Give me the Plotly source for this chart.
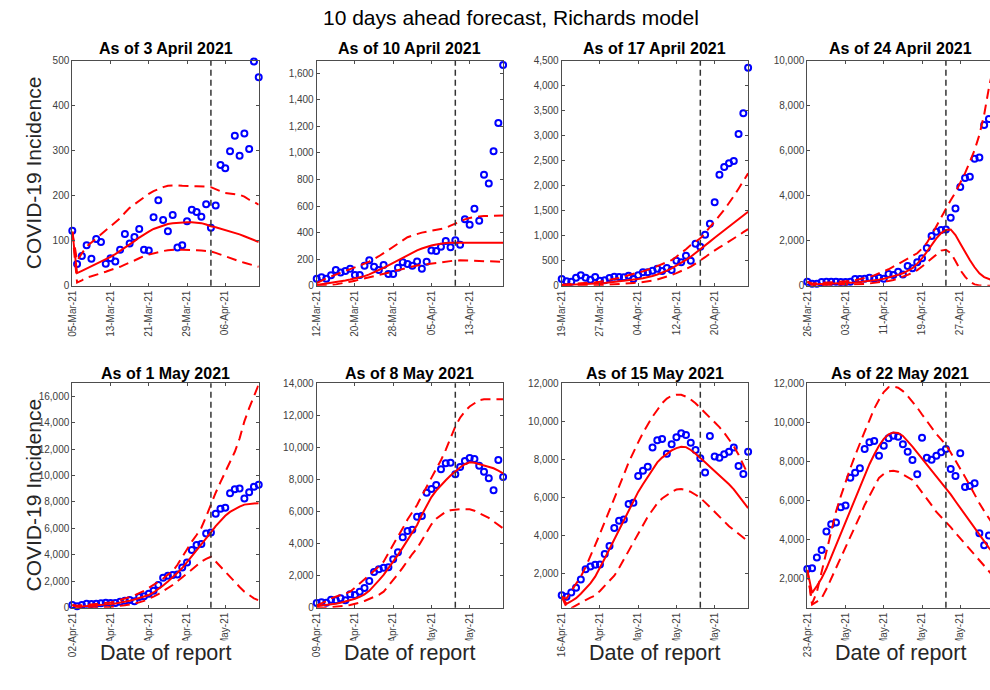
import plotly.graph_objects as go
from datetime import datetime, timedelta

# ---------------- data ----------------
start_dates = ["2021-03-05", "2021-03-12", "2021-03-19", "2021-03-26",
               "2021-04-02", "2021-04-09", "2021-04-16", "2021-04-23"]
cutoff_dates = ["2021-04-03", "2021-04-10", "2021-04-17", "2021-04-24",
                "2021-05-01", "2021-05-08", "2021-05-15", "2021-05-22"]
panel_titles = ["As of 3 April 2021", "As of 10 April 2021", "As of 17 April 2021", "As of 24 April 2021",
                "As of 1 May 2021", "As of 8 May 2021", "As of 15 May 2021", "As of 22 May 2021"]

p1_obs = [122,48,66,90,60,104,97,49,61,54,80,115,94,108,126,80,78,152,190,146,
          121,157,85,90,143,169,164,153,181,129,178,268,261,299,333,289,338,304,498,463]
p1_fit = [120,28,33,38,43,48,53,58,64,70,77,84,92,99,107,114,120,126,130,134,
          137,139,140,141,141,141,140,139,136,132,130,127,124,121,118,114,110,106,102,97]
p1_hi = [120,55,72,87,96,105,113,122,130,139,150,162,173,181,189,197,204,210,215,219,
         222,223,223,222,221,221,221,221,220,219,214,210,206,205,203,202,198,191,186,180]
p1_lo = [120,7,12,18,21,24,27,31,35,38,42,47,51,56,61,66,69,72,75,77,
         79,80,80,80,80,80,79,78,77,76,73,69,65,62,58,54,51,48,45,42]

p2_obs = [53,63,53,78,118,100,110,128,80,80,151,191,143,118,156,88,88,136,176,163,
          151,183,128,181,266,261,294,337,289,342,309,500,460,580,490,836,769,1012,1226,1663]
p2_fit = [5,10,15,20,26,32,39,46,54,62,72,85,100,117,135,153,172,192,212,232,
          250,266,280,293,303,311,317,321,323,324,324,324,324,324,324,324,324,324,324,324]
p2_hi = [20,40,55,70,83,96,110,125,138,152,166,182,200,222,245,270,294,320,345,365,
         378,390,400,407,414,421,428,435,452,470,486,500,510,518,522,525,527,528,528,528]
p2_lo = [0,0,2,5,10,15,22,30,38,46,55,62,70,80,90,98,108,118,128,137,
         145,152,158,163,167,170,175,180,186,190,191,190,189,188,187,186,185,183,182,180]

p3_obs = [133,87,80,160,207,160,120,173,100,107,153,180,173,167,200,133,207,267,267,300,
          340,293,353,313,500,467,600,500,840,780,1020,1240,1667,2220,2373,2447,2493,3033,3447,4360]
p3_fit = [10,13,17,21,25,30,35,41,48,56,65,75,86,98,111,120,132,148,167,195,
          225,260,300,347,400,455,515,580,652,727,805,882,960,1033,1106,1180,1255,1330,1405,1480]
p3_hi = [20,25,30,36,43,50,58,68,80,95,112,132,155,183,213,237,262,287,313,350,
         390,430,470,513,580,650,730,813,880,947,1055,1165,1280,1400,1520,1647,1790,1940,2090,2247]
p3_lo = [0,0,0,0,2,4,6,9,12,16,20,25,31,38,46,54,62,71,80,100,
         123,150,180,213,250,290,335,380,440,500,570,640,713,768,823,880,943,1007,1070,1133]

p4_obs = [178,89,89,163,178,178,178,163,163,178,296,296,311,355,311,355,311,518,474,622,
          503,874,770,1037,1215,1674,2207,2400,2474,2503,3021,3436,4384,4784,4843,5643,5702,7138,7405,7700]
p4_fit = [180,60,65,70,75,80,90,100,110,125,140,160,180,205,235,270,310,360,420,480,
          550,650,780,980,1215,1500,1800,2100,2340,2480,2500,2250,1880,1500,1140,820,550,380,280,220]
p4_hi = [180,100,110,120,130,140,150,170,190,210,240,280,330,390,460,540,630,730,844,960,
         1080,1200,1320,1440,1650,1900,2250,2650,3050,3450,3800,4150,4550,5000,5500,6030,6700,7600,8800,9800]
p4_lo = [180,20,22,25,28,30,35,40,45,50,55,65,80,100,120,145,175,210,252,320,
         400,480,580,696,850,1030,1215,1400,1560,1600,1450,1100,700,400,180,60,10,0,0,0]

p5_obs = [202,101,202,302,277,302,328,378,353,353,454,529,580,479,806,857,1058,1285,1714,2268,
          2419,2470,2520,3049,3427,4360,4738,4813,5620,5695,7106,7484,7560,8669,8971,9022,8266,8744,9148,9300]
p5_fit = [200,80,100,120,140,165,195,230,270,320,380,450,530,620,720,830,960,1150,1400,1680,
          1980,2280,2650,3000,3450,3850,4280,4730,5200,5700,6180,6600,6950,7250,7470,7650,7800,7860,7890,7900]
p5_hi = [200,150,180,210,240,270,300,330,400,480,570,670,800,940,1084,1280,1500,1714,1950,2200,
         2500,2750,3250,3850,4450,5000,5500,6050,6900,7850,8700,9500,10250,11000,11800,12800,14100,15100,16050,16900]
p5_lo = [200,50,40,30,30,30,30,40,60,90,130,180,240,310,403,520,660,832,1020,1230,
         1460,1714,2000,2300,2596,2900,3200,3478,3700,3856,3500,3100,2700,2320,1966,1570,1210,950,706,550]

p6_obs = [291,333,312,499,458,582,458,832,790,998,1227,1664,2226,2392,2496,2517,3016,3453,4389,4784,
          4867,5678,5720,7176,7405,7654,8632,9006,9048,8320,8778,9152,9339,9277,8861,8486,8070,7322,9214,8154]
p6_fit = [100,130,160,200,250,310,380,460,560,680,830,1050,1350,1700,2050,2450,2880,3300,3750,4200,
          4680,5158,5800,6400,6900,7300,7650,7950,8250,8528,8750,8950,9069,9040,8960,8880,8800,8700,8550,8382]
p6_hi = [150,250,400,582,680,780,890,998,1250,1500,1750,2050,2300,2580,2870,3400,3950,4450,4950,5500,
         5950,6406,7000,7550,8100,8600,9200,9850,10600,11300,11850,12250,12550,12750,12950,13000,13000,13000,13000,13000]
p6_lo = [50,0,10,30,50,80,120,166,230,310,420,530,650,800,998,1350,1750,2100,2500,2950,
         3350,3700,4200,4700,5200,5550,5800,5990,6080,6136,6150,6150,6136,6050,5900,5782,5600,5380,5170,4950]

p7_obs = [879,792,1019,1265,1702,2245,2385,2473,2490,3033,3453,4399,4784,4854,5660,5730,7131,7411,7621,8636,
          9004,9074,8304,8794,9162,9372,9284,8882,8496,8059,7323,9232,8163,8094,8269,8409,8636,7656,7236,8409]
p7_fit = [800,420,560,720,950,1200,1500,1850,2300,2800,3300,3800,4300,4850,5350,5850,6300,6700,7100,7500,
          7850,8100,8300,8480,8600,8670,8650,8500,8300,8050,7850,7620,7400,7170,6930,6700,6430,6120,5800,5450]
p7_hi = [800,700,1100,1500,1850,2350,2900,3500,4100,4700,5300,5900,6550,7200,7850,8400,8900,9400,9850,10250,
         10600,10950,11200,11350,11400,11400,11300,11150,10950,10700,10500,10250,10000,9700,9400,9050,8700,8250,7750,7200]
p7_lo = [800,250,200,350,500,620,750,850,1100,1350,1600,1900,2300,2750,3200,3700,4150,4600,5000,5350,
         5700,5950,6150,6300,6420,6450,6400,6300,6150,5980,5750,5500,5200,4950,4700,4500,4300,4100,3900,3700]

p8_obs = [2479,2513,3060,3453,4393,4769,4855,5640,5726,7161,7418,7640,8631,8973,9041,8289,8802,9178,9315,9263,
          8870,8494,8067,7332,9212,8187,8084,8289,8460,8631,7606,7247,8409,6683,6734,6871,4307,3692,4188,5200]
p8_fit = [2430,1250,1600,2000,2500,3100,3700,4300,4900,5500,6100,6700,7300,7850,8350,8800,9150,9380,9480,9450,
          9300,9050,8750,8450,8150,7850,7550,7250,6950,6650,6300,5950,5600,5250,4900,4570,4250,3900,3560,3250]
p8_hi = [2430,700,1300,2342,3400,4400,5418,6200,6950,7640,8300,8950,9520,10100,10700,11150,11550,11800,11830,11776,
         11600,11350,11058,10750,10400,10050,9700,9400,9120,8836,8450,8050,7640,7200,6750,6273,5850,5450,5076,4700]
p8_lo = [2430,650,800,975,1450,1980,2513,3030,3540,4051,4620,5190,5760,6250,6700,7150,7350,7480,7510,7469,
         7330,7190,7042,6740,6430,6102,5750,5400,5150,4905,4620,4330,4051,3760,3470,3196,2910,2620,2342,2080]

y_ranges = [[0, 500], [0, 1695], [0, 4500], [0, 10000],
            [0, 16980], [0, 14000], [220, 12000], [490, 12000]]
y_dticks = [100, 200, 500, 2000, 2000, 2000, 2000, 2000]

panels = [(p1_obs, p1_fit, p1_hi, p1_lo), (p2_obs, p2_fit, p2_hi, p2_lo),
          (p3_obs, p3_fit, p3_hi, p3_lo), (p4_obs, p4_fit, p4_hi, p4_lo),
          (p5_obs, p5_fit, p5_hi, p5_lo), (p6_obs, p6_fit, p6_hi, p6_lo),
          (p7_obs, p7_fit, p7_hi, p7_lo), (p8_obs, p8_fit, p8_hi, p8_lo)]

# ---------------- layout geometry ----------------
W, H = 990, 690
col_left = [72.3, 316.7, 561.7, 807.3]
px_per_day = 4.78
row_top = [60.7, 383.3]
row_bot = [285.7, 607.7]

FONT = "Liberation Sans, Arial, Helvetica, sans-serif"
AX_COLOR = "#4d4d4d"
TICK_COLOR = "#404040"

fig = go.Figure()
layout = dict(width=W, height=H, margin=dict(l=0, r=0, t=0, b=0, autoexpand=False),
              plot_bgcolor="white", paper_bgcolor="white", showlegend=False,
              font=dict(family=FONT, color="#262626"))
shapes = []
annotations = []

fmt = "%Y-%m-%d %H:%M:%S"
for i, (obs, fit, hi, lo) in enumerate(panels):
    r, c = divmod(i, 4)
    n = i + 1
    xa = "x" if n == 1 else f"x{n}"
    ya = "y" if n == 1 else f"y{n}"
    start = datetime.strptime(start_dates[i], "%Y-%m-%d")
    xs = [(start + timedelta(days=k)).strftime("%Y-%m-%d") for k in range(len(obs))]

    left = col_left[c]
    right = min(left + px_per_day * 39, W)
    days_shown = (right - left) / px_per_day
    x_end = start + timedelta(days=days_shown)

    fig.add_trace(go.Scatter(x=xs, y=obs, mode="markers", xaxis=xa, yaxis=ya,
                             marker=dict(symbol="circle-open", size=6, color="#0000ff",
                                         line=dict(width=2, color="#0000ff")),
                             cliponaxis=False, hoverinfo="skip"))
    fig.add_trace(go.Scatter(x=xs, y=fit, mode="lines", xaxis=xa, yaxis=ya,
                             line=dict(color="#ff0000", width=2), hoverinfo="skip"))
    for band in (hi, lo):
        fig.add_trace(go.Scatter(x=xs, y=band, mode="lines", xaxis=xa, yaxis=ya,
                                 line=dict(color="#ff0000", width=2, dash="10px,6px"),
                                 hoverinfo="skip"))

    tickvals = [start + timedelta(days=8 * k) for k in range(5)]
    xkey = "xaxis" if n == 1 else f"xaxis{n}"
    ykey = "yaxis" if n == 1 else f"yaxis{n}"
    layout[xkey] = dict(domain=[left / W, right / W],
                        range=[start.strftime(fmt), x_end.strftime(fmt)],
                        anchor=ya, tickvals=[t.strftime("%Y-%m-%d") for t in tickvals],
                        ticktext=[t.strftime("%d-%b-%y") for t in tickvals],
                        tickangle=-90, ticks="inside", ticklen=3, tickcolor=AX_COLOR,
                        showline=True, linecolor=AX_COLOR, linewidth=1, mirror="ticks",
                        showgrid=False, zeroline=False, automargin=False,
                        tickfont=dict(family=FONT, size=10, color=TICK_COLOR))
    layout[ykey] = dict(domain=[(H - row_bot[r]) / H, (H - row_top[r]) / H],
                        range=y_ranges[i], anchor=xa, tick0=0, dtick=y_dticks[i],
                        tickformat=",d", ticks="inside", ticklen=3, tickcolor=AX_COLOR,
                        showline=True, linecolor=AX_COLOR, linewidth=1,
                        mirror=("ticks" if c < 3 else False),
                        showgrid=False, zeroline=False, automargin=False,
                        tickfont=dict(family=FONT, size=10, color=TICK_COLOR))

    shapes.append(dict(type="line", xref=xa, yref=f"{ya} domain",
                       x0=cutoff_dates[i], x1=cutoff_dates[i], y0=0, y1=1,
                       line=dict(color="#333333", width=1.5, dash="6px,4px")))

    cx = (left + left + px_per_day * 39) / 2
    cx = min(cx, 900)
    title_y = 49 if r == 0 else 373
    annotations.append(dict(text=f"<b>{panel_titles[i]}</b>", x=cx / W, y=(H - title_y) / H,
                            xref="paper", yref="paper", showarrow=False,
                            xanchor="center", yanchor="middle",
                            font=dict(family=FONT, size=16, color="black")))
    if r == 1:
        annotations.append(dict(text="Date of report", x=cx / W, y=(H - 653) / H,
                                xref="paper", yref="paper", showarrow=False,
                                xanchor="center", yanchor="middle",
                                bgcolor="white", borderpad=0,
                                font=dict(family=FONT, size=21.5, color="#262626")))

for r in range(2):
    annotations.append(dict(text="COVID-19 Incidence", x=33 / W,
                            y=(H - (row_top[r] + row_bot[r]) / 2) / H,
                            xref="paper", yref="paper", showarrow=False, textangle=-90,
                            xanchor="center", yanchor="middle",
                            font=dict(family=FONT, size=21, color="#262626")))

annotations.append(dict(text="10 days ahead forecast, Richards model", x=511 / W, y=(H - 18) / H,
                        xref="paper", yref="paper", showarrow=False,
                        xanchor="center", yanchor="middle",
                        font=dict(family=FONT, size=21, color="black")))

layout["shapes"] = shapes
layout["annotations"] = annotations
fig.update_layout(**layout)
fig.write_html("out.html")
